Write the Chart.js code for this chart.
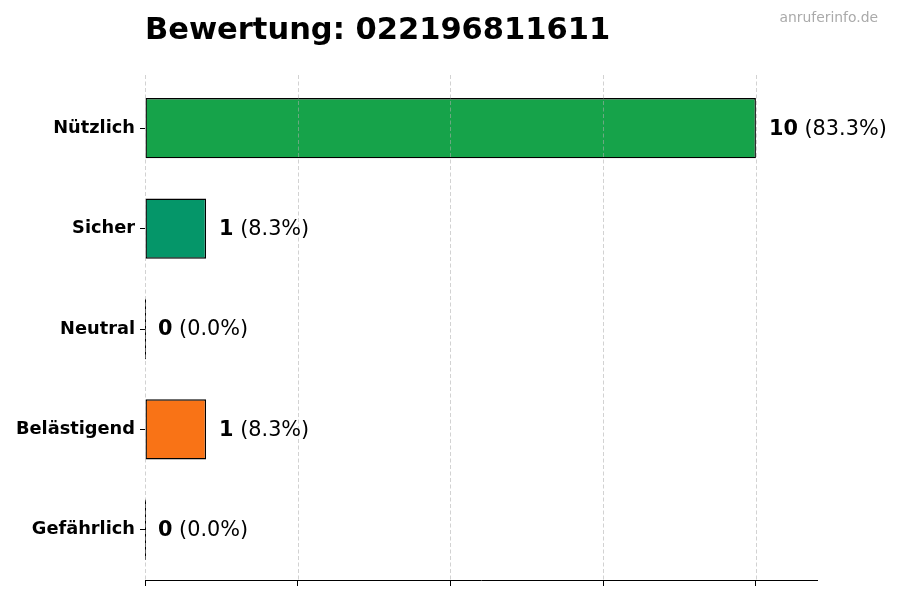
<!DOCTYPE html>
<html>
<head>
<meta charset="utf-8">
<script src="https://cdn.jsdelivr.net/npm/chart.js@4"></script>
<style>
	html, body { margin: 0; padding: 0; background: #fff; }
	#wrap { width: 900px; height: 600px; }
</style>
</head>
<body>
<div id="wrap"><canvas id="graphOne" width="900" height="600"></canvas></div>
<script>
const categories = ['Nützlich', 'Sicher', 'Neutral', 'Belästigend', 'Gefährlich'];
const counts = [10, 1, 0, 1, 0];
const barColors = ['#16a34a', '#059669', '#6b7280', '#f97316', '#dc2626'];
const xTicks = [0, 2.5, 5, 7.5, 10];
const titleText = 'Bewertung: 022196811611';
const sourceText = 'anruferinfo.de';

const total = counts.reduce((a, b) => a + b, 0);
const FONT = "'DejaVu Sans', sans-serif";

// grid on top of the bars, title, watermark and the "n (p%)" labels
const extras = {
	id: 'extras',
	afterDatasetsDraw(chart) {
		const c = chart.ctx;
		const area = chart.chartArea;
		const xs = chart.scales.x;
		const meta = chart.getDatasetMeta(0);
		c.save();

		// zero bars still show their edge as a thin line
		c.strokeStyle = '#000';
		c.lineWidth = 1;
		meta.data.forEach((bar, i) => {
			if (counts[i] !== 0) return;
			const x = Math.round(bar.base) + 0.5;
			c.beginPath();
			c.moveTo(x, bar.y - bar.height / 2);
			c.lineTo(x, bar.y + bar.height / 2);
			c.stroke();
		});

		c.strokeStyle = 'rgba(175,175,175,0.7)';
		c.lineWidth = 0.8;
		c.setLineDash([4, 2.5]);
		xs.ticks.forEach(t => {
			const x = Math.round(xs.getPixelForValue(t.value)) + 0.5;
			c.beginPath();
			c.moveTo(x, area.top - 3);
			c.lineTo(x, area.bottom);
			c.stroke();
		});
		c.setLineDash([]);

		c.textBaseline = 'middle';
		c.fillStyle = '#000';
		c.font = 'bold 30.5px ' + FONT;
		c.textAlign = 'left';
		c.fillText(titleText, area.left, 31);

		c.fillStyle = '#aaaaaa';
		c.font = '13.9px ' + FONT;
		c.textAlign = 'right';
		c.fillText(sourceText, 878, 18);

		c.textAlign = 'left';
		meta.data.forEach((bar, i) => {
			const v = counts[i];
			const pct = total ? (v / total * 100).toFixed(1) : '0.0';
			let x = bar.x + 13;
			c.fillStyle = '#000';
			c.font = 'bold 20.8px ' + FONT;
			const num = String(v);
			c.fillText(num, x, bar.y + 1);
			x += c.measureText(num).width;
			c.font = '20.8px ' + FONT;
			c.fillText(' (' + pct + '%)', x, bar.y + 1);
		});
		c.restore();
	}
};

new Chart(document.getElementById('graphOne'), {
	type: 'bar',
	data: {
		labels: categories,
		datasets: [{
			data: counts,
			backgroundColor: barColors,
			borderColor: '#000',
			borderWidth: 1.4,
			borderSkipped: false,
			barPercentage: 0.6,
			categoryPercentage: 1
		}]
	},
	options: {
		indexAxis: 'y',
		responsive: false,
		animation: false,
		events: [],
		layout: {
			padding: { top: 78, right: 83, bottom: 14, left: 0 }
		},
		scales: {
			x: {
				min: 0,
				max: 11,
				afterBuildTicks(scale) {
					scale.ticks = xTicks.map(v => ({ value: v }));
				},
				ticks: { display: false },
				grid: {
					drawOnChartArea: false,
					tickColor: '#000',
					tickWidth: 1,
					tickLength: 6
				},
				border: {
					display: true,
					color: '#000',
					width: 1
				}
			},
			y: {
				afterFit(scale) {
					scale.width = 145;
				},
				ticks: {
					color: '#000',
					padding: 5,
					font: { family: FONT, size: 17.8, weight: 'bold', lineHeight: 1.0 }
				},
				grid: {
					offset: false,
					drawOnChartArea: false,
					tickColor: '#000',
					tickLength: 5
				},
				border: { display: false }
			}
		},
		plugins: {
			legend: { display: false },
			tooltip: { enabled: false }
		}
	},
	plugins: [extras]
});
</script>
</body>
</html>
